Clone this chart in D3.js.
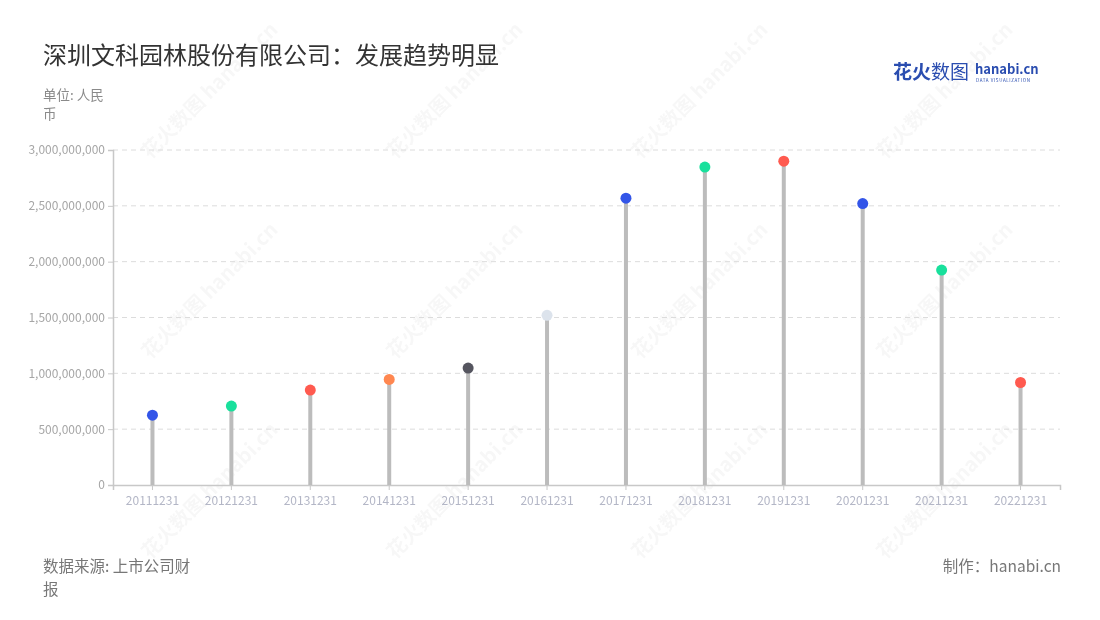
<!DOCTYPE html>
<html><head><meta charset="utf-8">
<script src="https://cdn.jsdelivr.net/npm/d3@7"></script>
<style>
body{margin:0;background:#fff;font-family:"Noto Sans CJK SC","Noto Sans",sans-serif;}
svg{display:block}
</style></head><body>
<svg id="c" width="1100" height="620"></svg>
<script>
const categories = ["20111231","20121231","20131231","20141231","20151231","20161231","20171231","20181231","20191231","20201231","20211231","20221231"];
const values = [625000000,707000000,850000000,945000000,1047000000,1520000000,2569000000,2847000000,2900000000,2520000000,1925000000,918000000];
const dotColors = ["#3355e8","#19e09c","#ff5a4f","#ff8750","#55555f","#dce3ec","#3355e8","#19e09c","#ff5a4f","#3355e8","#19e09c","#ff5a4f"];
const yTicks = [0,500000000,1000000000,1500000000,2000000000,2500000000,3000000000];

const svg = d3.select("#c");
const F = '"Noto Sans CJK SC","Noto Sans",sans-serif';
const x0 = 113, x1 = 1060, yTop = 150, yBot = 485;

// watermarks
const wm = svg.append("g").attr("fill","#000").attr("opacity",0.035).attr("font-family",F).attr("font-weight","bold");
[[150,160],[395,160],[640,160],[885,160],[150,360],[395,360],[640,360],[885,360],[150,560],[395,560],[640,560],[885,560]].forEach(([a,b])=>{
  wm.append("text").attr("transform",`translate(${a},${b}) rotate(-45)`).attr("font-size",20).text("花火数图 hanabi.cn");
});

const x = d3.scaleBand().domain(categories).range([x0,x1]);
const y = d3.scaleLinear().domain([0,3000000000]).range([yBot,yTop]);

// grid
svg.append("g").selectAll("line").data(yTicks.filter(d=>d>0)).join("line")
  .attr("x1",x0).attr("x2",x1).attr("y1",d=>y(d)).attr("y2",d=>y(d))
  .attr("stroke","#dcdcdc").attr("stroke-dasharray","5,4").attr("stroke-width",1);

// y axis
const ya = svg.append("g").attr("transform",`translate(${x0},0)`)
  .call(d3.axisLeft(y).tickValues(yTicks).tickSize(5).tickPadding(3).tickFormat(d3.format(",")));
ya.select(".domain").attr("stroke","#c8c8c8").attr("stroke-width",1.5);
ya.selectAll(".tick line").attr("stroke","#c8c8c8");
ya.selectAll("text").attr("fill","#a6a6a6").attr("font-size",12).attr("font-family",F);

// x axis
const xa = svg.append("g").attr("transform",`translate(0,${yBot})`)
  .call(d3.axisBottom(x).tickSize(5).tickPadding(6));
xa.select(".domain").attr("stroke","#c8c8c8").attr("stroke-width",1.5);
xa.selectAll(".tick line").attr("stroke","#c8c8c8");
xa.selectAll("text").attr("fill","#b3b6c6").attr("font-size",12).attr("font-family",F);

// stems
const cx = d => x(d) + x.bandwidth()/2;
svg.append("g").selectAll("line").data(categories).join("line")
  .attr("x1",cx).attr("x2",cx).attr("y1",y(0)).attr("y2",(d,i)=>y(values[i]))
  .attr("stroke","#bcbcbc").attr("stroke-width",4);
// dots
svg.append("g").selectAll("circle").data(categories).join("circle")
  .attr("cx",cx).attr("cy",(d,i)=>y(values[i])).attr("r",5.5)
  .attr("fill",(d,i)=>dotColors[i]);

// title
svg.append("text").attr("x",43).attr("y",64).attr("font-size",24).attr("fill","#333").attr("font-family",F).text("深圳文科园林股份有限公司：发展趋势明显");
// unit
svg.append("text").attr("x",43).attr("y",100).attr("font-size",13.5).attr("fill","#8a8a8a").attr("font-family",F).text("单位: 人民");
svg.append("text").attr("x",43).attr("y",119).attr("font-size",13.5).attr("fill","#8a8a8a").attr("font-family",F).text("币");
// footer
svg.append("text").attr("x",43).attr("y",572).attr("font-size",15.5).attr("fill","#777").attr("font-family",F).text("数据来源: 上市公司财");
svg.append("text").attr("x",43).attr("y",595).attr("font-size",15.5).attr("fill","#777").attr("font-family",F).text("报");
svg.append("text").attr("x",1061).attr("y",572).attr("text-anchor","end").attr("font-size",15.5).attr("fill","#777").attr("font-family",F).text("制作：hanabi.cn");

// logo
const lg = svg.append("g").attr("font-family",F);
lg.append("text").attr("x",893).attr("y",79).attr("font-size",19).attr("font-weight","bold").attr("fill","#2a4db0").text("花火");
lg.append("text").attr("x",931).attr("y",79).attr("font-size",19).attr("fill","#2a4db0").text("数图");
lg.append("text").attr("x",975).attr("y",74).attr("font-size",13).attr("font-weight","bold").attr("fill","#2a4db0").text("hanabi.cn");
lg.append("text").attr("x",976).attr("y",82).attr("font-size",4.5).attr("fill","#2a4db0").attr("letter-spacing",0.6).text("DATA VISUALIZATION");
</script></body></html>
